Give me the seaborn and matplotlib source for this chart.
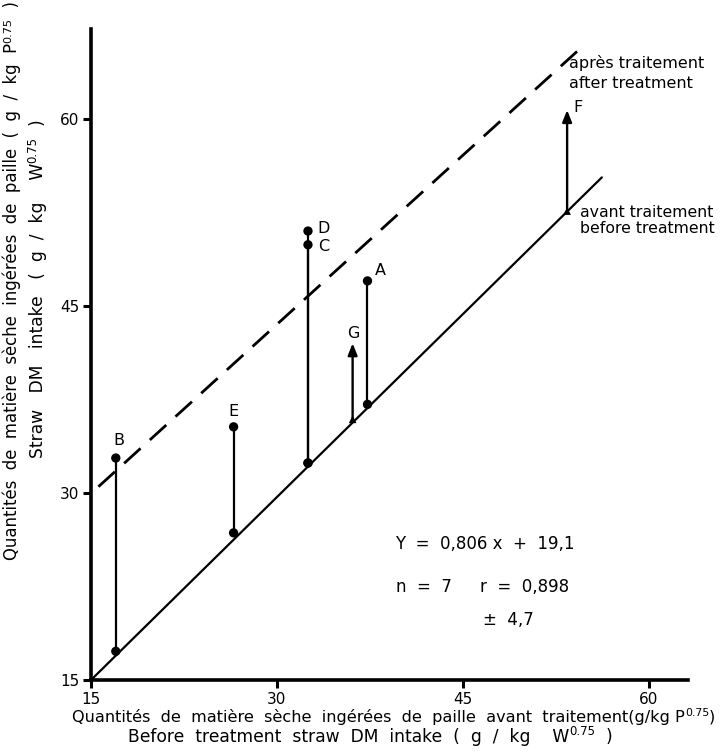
import matplotlib
matplotlib.use("Agg")
import matplotlib.pyplot as plt
import numpy as np
import pandas as pd
import seaborn as sns

# ---- data ----
labels = ["A", "B", "C", "D", "E", "F", "G"]
before_x = [37.3, 17.0, 32.5, 32.5, 26.5, 53.4, 36.1]
before_y = [37.1, 17.3, 32.4, 32.4, 26.8, 52.6, 35.9]
after_y = [47.0, 32.8, 49.9, 51.0, 35.3, 60.7, 42.0]
kind = ["dot", "dot", "dot", "dot", "dot", "arrow", "arrow"]
label_x = [38.3, 17.25, 33.74, 33.74, 26.49, 54.24, 36.15]
label_y = [47.8, 34.23, 49.8, 51.2, 36.5, 60.9, 42.78]

before_line_x = [15.0, 56.2]
before_line_y = [15.0, 55.3]
after_line_x = [15.6, 54.2]
after_line_y = [30.5, 65.4]

xticks = [15, 30, 45, 60]
yticks = [15, 30, 45, 60]

sns.set_style("ticks")
plt.rcParams["font.family"] = ["DejaVu Sans"]
plt.rcParams["mathtext.default"] = "regular"
plt.rcParams["text.color"] = "black"
plt.rcParams["axes.labelcolor"] = "black"
plt.rcParams["xtick.color"] = "black"
plt.rcParams["ytick.color"] = "black"

W, H = 720, 756
fig = plt.figure(figsize=(7.2, 7.56), dpi=100)
ax = fig.add_axes([91 / W, 76 / H, 597 / W, 651 / H])

df = pd.DataFrame({"label": labels, "bx": before_x, "by": before_y,
                   "ay": after_y, "kind": kind})

# reference lines
sns.lineplot(x=before_line_x, y=before_line_y, color="black", lw=1.6,
             sort=False, ax=ax)
sns.lineplot(x=after_line_x, y=after_line_y, color="black", lw=2.0,
             sort=False, ax=ax, linestyle=(0, (8.0, 4.5)))

dots = df[df["kind"] == "dot"]
arrows = df[df["kind"] == "arrow"]

ax.vlines(dots["bx"], dots["by"], dots["ay"], color="black", lw=1.6)
for _, r in arrows.iterrows():
    ax.annotate("", xy=(r["bx"], r["ay"]), xytext=(r["bx"], r["by"]),
                arrowprops=dict(arrowstyle="-|>,head_length=0.7,head_width=0.28",
                                color="black", lw=1.7, shrinkA=0, shrinkB=0))

sns.scatterplot(x=dots["bx"], y=dots["ay"], color="black", s=45,
                edgecolor="none", ax=ax, zorder=5)
sns.scatterplot(x=dots["bx"], y=dots["by"], color="black", s=45,
                edgecolor="none", ax=ax, zorder=5)
sns.scatterplot(x=arrows["bx"], y=arrows["by"], color="black", s=30,
                marker="^", edgecolor="none", ax=ax, zorder=5)
ax.set_xlabel("")
ax.set_ylabel("")

for lab, lx, ly in zip(labels, label_x, label_y):
    ax.text(lx, ly, lab, ha="center", va="center", fontsize=11.5)

# line annotations
ax.text(53.57, 64.44, "après traitement", ha="left", va="center", fontsize=11.5)
ax.text(53.57, 62.84, "after treatment", ha="left", va="center", fontsize=11.5)
ax.text(54.45, 52.5, "avant traitement", ha="left", va="center", fontsize=11.3)
ax.text(54.45, 51.2, "before treatment", ha="left", va="center", fontsize=11.3)

# statistics
ax.text(39.56, 25.9, "Y  =  0,806 x  +  19,1", ha="left", va="center", fontsize=12)
ax.text(39.56, 22.45, "n  =  7", ha="left", va="center", fontsize=12)
ax.text(46.4, 22.45, "r  =  0,898", ha="left", va="center", fontsize=12)
ax.text(46.64, 19.8, "±  4,7", ha="left", va="center", fontsize=12)

ax.set_xlim(15, 63.15)
ax.set_ylim(15, 67.2)
ax.set_xticks(xticks)
ax.set_yticks(yticks)
ax.set_xticklabels([str(t) for t in xticks])
ax.set_yticklabels([str(t) for t in yticks])
ax.tick_params(direction="out", length=6, width=2.2, labelsize=11, pad=2.5,
               colors="black")

for s in ["top", "right"]:
    ax.spines[s].set_visible(False)
for s in ["left", "bottom"]:
    ax.spines[s].set_linewidth(2.6)
    ax.spines[s].set_color("black")


def sup_line(x_px, y_px, main, sup, tail, fs, rotated=False):
    """Text with a raised exponent, built from three chained texts."""
    if not rotated:
        t1 = fig.text(x_px / W, 1 - y_px / H, main, ha="left", va="center",
                      fontsize=fs)
        t2 = ax.annotate(sup, xy=(1, 0.42), xycoords=t1, ha="left",
                         va="bottom", fontsize=fs * 0.68)
        ax.annotate(tail, xy=(1, 0), xycoords=(t2, t1), ha="left",
                    va="bottom", fontsize=fs)
    else:
        t1 = fig.text(x_px / W, 1 - y_px / H, main, ha="center", va="bottom",
                      rotation=90, fontsize=fs)
        t2 = ax.annotate(sup, xy=(0.58, 1), xycoords=t1, ha="right",
                         va="bottom", rotation=90, fontsize=fs * 0.68)
        ax.annotate(tail, xy=(0, 1), xycoords=(t1, t2), ha="left",
                    va="bottom", rotation=90, fontsize=fs)


# x axis title (two lines)
sup_line(72, 717,
         "Quantités  de  matière  sèche  ingérées  de  paille  avant  traitement(g/kg P",
         "0.75", ")", 11.6)
sup_line(128, 737,
         "Before  treatment  straw  DM  intake  (  g  /  kg    W",
         "0.75", "  )", 12.3)

# y axis title (two lines)
sup_line(12, 560,
         "Quantités  de  matière  sèche  ingérées  de  paille  (  g  /  kg  P",
         "0.75", "  )", 11.9, rotated=True)
sup_line(38, 458,
         "Straw   DM   intake   (  g  /  kg    W",
         "0.75", "  )", 12.3, rotated=True)

fig.savefig("out.png", dpi=100)
